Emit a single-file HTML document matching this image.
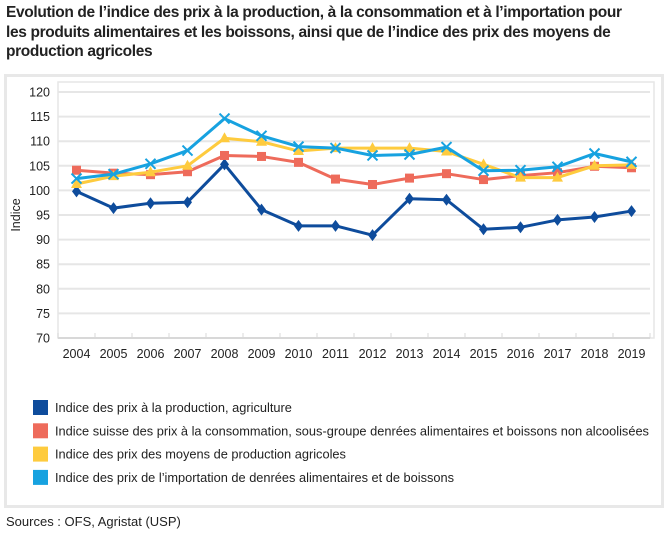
<!DOCTYPE html>
<html><head><meta charset="utf-8"><style>
body{margin:0;width:668px;height:535px;background:#fff;font-family:"Liberation Sans",sans-serif;overflow:hidden;position:relative}
#title{position:absolute;left:6px;top:3px;width:666px;font-size:15.5px;font-weight:bold;line-height:19.5px;color:#222;letter-spacing:-0.35px;white-space:nowrap}
#frame{position:absolute;left:4px;top:74px;width:654px;height:428px;border:3px solid #e8e8e8}
#src{position:absolute;left:6px;top:514px;font-size:13px;color:#222}
</style></head><body>
<div id="title">Evolution de l’indice des prix à la production, à la consommation et à l’importation pour<br>les produits alimentaires et les boissons, ainsi que de l’indice des prix des moyens de<br>production agricoles</div>
<div id="frame"></div>
<svg id="chart" width="668" height="535" style="position:absolute;left:0;top:0"></svg>
<div id="src">Sources : OFS, Agristat (USP)</div>
<script>
const years=["2004","2005","2006","2007","2008","2009","2010","2011","2012","2013","2014","2015","2016","2017","2018","2019"];
const yTicks=[70,75,80,85,90,95,100,105,110,115,120];
const prodAgri=[99.8,96.4,97.4,97.6,105.3,96.1,92.8,92.8,90.9,98.3,98.1,92.1,92.5,94.0,94.6,95.8];
const consum=[104.1,103.5,103.2,103.8,107.1,106.9,105.7,102.3,101.2,102.5,103.4,102.2,103.0,103.6,104.9,104.6];
const moyens=[101.3,102.9,103.7,105.0,110.6,109.9,108.0,108.6,108.6,108.6,107.9,105.3,102.6,102.6,105.0,105.2];
const importation=[102.4,103.3,105.4,108.1,114.6,111.1,108.9,108.6,107.1,107.3,108.8,104.0,104.1,104.8,107.5,105.8];
const legendLabels=["Indice des prix à la production, agriculture","Indice suisse des prix à la consommation, sous-groupe denrées alimentaires et boissons non alcoolisées","Indice des prix des moyens de production agricoles","Indice des prix de l’importation de denrées alimentaires et de boissons"];
const NS="http://www.w3.org/2000/svg";
const svg=document.getElementById('chart');
const L=58,R=650,T=92,B=338,ymin=70,ymax=120;
const step=(R-L)/years.length;
const x=i=>L+step*(i+0.5);
const y=v=>B-(v-ymin)/(ymax-ymin)*(B-T);
function mk(tag,a){const e=document.createElementNS(NS,tag);for(const k in a)e.setAttribute(k,a[k]);svg.appendChild(e);return e;}
const pb=mk('rect',{x:L,y:82,width:R-L+4,height:B-82,fill:'none',stroke:'#e6e6e6','stroke-width':1.5});


yTicks.forEach(v=>{
  const g=mk('line',{x1:L,x2:R,y1:y(v),y2:y(v),stroke:v===70?'#d8d8d8':'#e6e6e6','stroke-width':2});
  
  
  const t=mk('text',{x:L-8,y:y(v)+4.5,'text-anchor':'end','font-size':12.5,fill:'#222'});
  t.textContent=v;
  
  
});
for(let i=0;i<=years.length;i++){
  const tk=mk('line',{x1:L+step*i,x2:L+step*i,y1:B,y2:B-5,stroke:'#d8d8d8','stroke-width':1});
  
  
}
years.forEach((yr,i)=>{
  const t=mk('text',{x:x(i),y:B+20,'text-anchor':'middle','font-size':12.5,fill:'#222'});
  t.textContent=yr;
  
  
});
const yt=mk('text',{x:0,y:0,'text-anchor':'middle','font-size':12.5,fill:'#222',transform:`translate(20,${(T+B)/2}) rotate(-90)`});
yt.textContent='Indice';


const series=[[prodAgri,'#0e4c9c','diamond','prod-agri'],[consum,'#ee6b5b','square','consum'],[moyens,'#fecb3e','triangle','moyens'],[importation,'#17a2e0','x','importation']];
series.forEach(([d,c,m,n])=>{
  const pl=mk('polyline',{points:d.map((v,i)=>x(i)+','+y(v)).join(' '),fill:'none',stroke:c,'stroke-width':3,'stroke-linejoin':'round'});
  
  
  d.forEach((v,i)=>{
    const cx=x(i),cy=y(v);let e;
    if(m==='diamond')e=mk('polygon',{points:`${cx},${cy-6} ${cx+4.5},${cy} ${cx},${cy+6} ${cx-4.5},${cy}`,fill:c});
    else if(m==='square')e=mk('rect',{x:cx-4.5,y:cy-4.5,width:9,height:9,fill:c});
    else if(m==='triangle')e=mk('polygon',{points:`${cx},${cy-6} ${cx+5.5},${cy+4} ${cx-5.5},${cy+4}`,fill:c});
    else e=mk('path',{d:`M${cx-5},${cy-5}L${cx+5},${cy+5}M${cx+5},${cy-5}L${cx-5},${cy+5}`,stroke:c,'stroke-width':2,fill:'none'});
    
    
  });
});
const colors=['#0e4c9c','#ee6b5b','#fecb3e','#17a2e0'];
legendLabels.forEach((lab,i)=>{
  const ly=400+i*23.3;
  const r=mk('rect',{x:33,y:ly,width:15,height:15,fill:colors[i]});
  
  
  const t=mk('text',{x:55,y:ly+12,'font-size':12.8,fill:'#222'});
  t.textContent=lab;
  
  
});
</script>
</body></html>
